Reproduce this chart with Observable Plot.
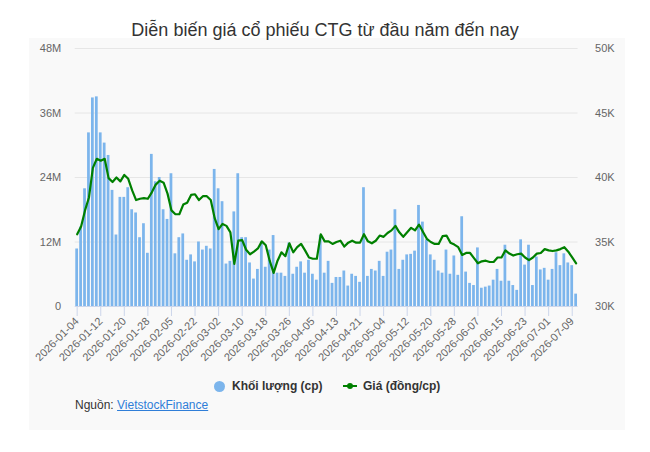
<!DOCTYPE html>
<html>
<head>
<meta charset="utf-8">
<script src="https://cdn.jsdelivr.net/npm/d3@7"></script>
<script src="https://cdn.jsdelivr.net/npm/@observablehq/plot@0.6"></script>
<style>
  html, body { margin: 0; padding: 0; background: #ffffff; }
  #root { position: relative; width: 650px; height: 452px; font-family: "Liberation Sans", Arial, sans-serif; overflow: hidden; }
  #panel { position: absolute; left: 29px; top: 38px; width: 596px; height: 392px; background: #f9f9f9; }
  #title { position: absolute; left: 0; top: 19px; width: 650px; text-align: center; font-size: 18px; color: #333333; line-height: 22px; }
  .chart { position: absolute; left: 29px; top: 38px; }
  .chart svg { overflow: visible; }
  .leg { position: absolute; font-size: 12px; font-weight: bold; color: #333333; line-height: 16px; white-space: nowrap; }
  #src { position: absolute; left: 75px; top: 397px; font-size: 12px; color: #333333; line-height: 16px; }
  #src a { color: #2f7ed8; text-decoration: underline; }
  .p1 [aria-label="x-axis tick"] { stroke: #ccd6eb; }
  .p1 g[aria-label="x-axis"] line { stroke: #ccd6eb; }
</style>
</head>
<body>
<div id="root">
  <div id="panel"></div>
  <div id="title">Diễn biến giá cổ phiếu CTG từ đầu năm đến nay</div>
  <div id="c1" class="chart p1"></div>
  <div id="c2" class="chart p2"></div>
  <div class="leg" style="left:213.5px; top:380.5px; width:11px; height:11px; border-radius:50%; background:#7cb5ec;"></div>
  <div class="leg" style="left:232px; top:378px;">Khối lượng (cp)</div>
  <div class="leg" style="left:343px; top:385px; width:14px; height:2px; background:#008000;"></div>
  <div class="leg" style="left:347px; top:383px; width:6px; height:6px; border-radius:50%; background:#008000;"></div>
  <div class="leg" style="left:363px; top:378px;">Giá (đồng/cp)</div>
  <div id="src">Nguồn: <a href="#">VietstockFinance</a></div>
</div>
<script>
// Trading-session volume, millions of shares (Khối lượng)
const volumeM = [
  10.7, 14.8, 21.9, 32.3, 38.8, 39.0, 32.3, 30.4, 28.1, 21.6,
  13.3, 20.3, 20.3, 22.1, 18.0, 17.4, 12.8, 15.4, 9.9, 28.3,
  23.2, 24.0, 18.0, 16.2, 24.7, 9.8, 12.8, 13.5, 8.6, 9.6,
  8.3, 12.0, 10.5, 11.2, 10.7, 25.5, 21.9, 19.5, 7.9, 8.4,
  17.6, 24.7, 12.8, 12.8, 8.1, 5.1, 6.9, 12.0, 7.3, 10.5,
  13.2, 6.2, 6.2, 5.6, 11.8, 6.0, 7.3, 8.3, 6.2, 8.6,
  6.0, 4.9, 13.2, 6.2, 8.4, 4.3, 5.4, 5.4, 6.6, 3.8,
  6.0, 5.6, 4.5, 22.1, 5.6, 6.9, 6.6, 8.4, 5.6, 10.1,
  10.5, 18.0, 6.9, 8.6, 9.6, 9.7, 10.3, 18.8, 15.7, 12.4,
  9.6, 8.6, 6.6, 6.2, 10.5, 6.0, 9.4, 5.8, 16.7, 6.4,
  4.3, 3.9, 10.9, 3.4, 3.6, 3.8, 4.9, 6.9, 4.7, 11.4,
  4.7, 3.9, 3.0, 12.4, 7.7, 11.4, 3.9, 9.2, 6.8, 7.1,
  4.9, 6.9, 10.0, 7.6, 9.8, 8.1, 7.6, 2.3
];
// Closing price, VND per share (Giá)
const priceVND = [
  35600, 36200, 37450, 38450, 40750, 41450, 41300, 41450, 39950, 39650,
  40000, 39700, 40200, 39900, 39000, 38250, 38350, 38400, 38350, 38850,
  39450, 39750, 39600, 38750, 37450, 37150, 37150, 37900, 38050, 38650,
  38700, 38250, 38550, 38550, 38250, 36850, 36000, 36400, 36250, 35750,
  33300, 35100, 35150, 34400, 34050, 34250, 34500, 35050, 34750, 33550,
  32600, 33550, 34200, 33900, 34900, 34200, 34600, 34850, 34350, 33800,
  33700, 33700, 35600, 35050, 35050, 34850, 35000, 35100, 34650, 34950,
  35100, 34950, 34950, 35600, 35050, 34900, 35100, 35500, 35400, 35700,
  35900, 36250, 35750, 35400, 35750, 36100, 35900, 36350, 35800, 35250,
  35000, 34850, 34850, 35450, 35500, 34950, 34800, 34600, 34000, 34150,
  34150, 33750, 33350, 33500, 33550, 33450, 33450, 33800, 33800, 34350,
  34100, 33950, 34050, 34100, 33800, 33600, 33800, 34100, 34150, 34450,
  34350, 34300, 34350, 34450, 34600, 34250, 33800, 33350
];
// Labelled sessions (every 6th bar)
const tickLabels = [
  "2026-01-04", "2026-01-12", "2026-01-20", "2026-01-28", "2026-02-05", "2026-02-22",
  "2026-03-02", "2026-03-10", "2026-03-18", "2026-03-26", "2026-04-05", "2026-04-13",
  "2026-04-21", "2026-05-04", "2026-05-12", "2026-05-20", "2026-05-28", "2026-06-07",
  "2026-06-15", "2026-06-23", "2026-07-01", "2026-07-09"
];
const volumeTicks = [0, 12, 24, 36, 48];
const priceTicks = [30000, 35000, 40000, 45000, 50000];

const data = volumeM.map((v, i) => ({i, v, p: priceVND[i]}));
const idx = data.map(d => d.i);
const tickIdx = tickLabels.map((_, k) => k * 6);

const FONT = "'Liberation Sans', Arial, sans-serif";
const W = 596, H = 340, ML = 45.7, MR = 47.4, MT = 10, MB = 72;

const xOpts = {type: "band", domain: idx, paddingInner: 0.3, paddingOuter: 0.15};

const p1 = Plot.plot({
  width: W, height: H, marginTop: MT, marginBottom: MB, marginLeft: ML, marginRight: MR,
  style: {background: "none", fontFamily: FONT, fontSize: "11px", color: "#666666", overflow: "visible"},
  x: {...xOpts, ticks: tickIdx, tickFormat: i => tickLabels[i / 6], tickRotate: -45, tickSize: 10, tickPadding: 3, label: null},
  y: {domain: [0, 48], ticks: volumeTicks, tickFormat: d => d === 0 ? "0" : d + "M", tickSize: 0, tickPadding: 14, label: null},
  marks: [
    Plot.ruleY(volumeTicks.slice(1), {stroke: "#e6e6e6", strokeWidth: 1}),
    Plot.barY(data, {x: "i", y: "v", fill: "#7cb5ec"}),
    Plot.ruleY([0], {stroke: "#ccd6eb", strokeWidth: 1})
  ]
});
document.getElementById("c1").appendChild(p1);

const p2 = Plot.plot({
  width: W, height: H, marginTop: MT, marginBottom: MB, marginLeft: ML, marginRight: MR,
  style: {background: "none", fontFamily: FONT, fontSize: "11px", color: "#666666", overflow: "visible"},
  x: {...xOpts, axis: null},
  y: {domain: [30000, 50000], axis: "right", ticks: priceTicks, tickFormat: d => (d / 1000) + "K", tickSize: 0, tickPadding: 17, label: null},
  marks: [
    Plot.line(data, {x: "i", y: "p", stroke: "#008000", strokeWidth: 2.2, strokeLinejoin: "round"})
  ]
});
document.getElementById("c2").appendChild(p2);
</script>
</body>
</html>
